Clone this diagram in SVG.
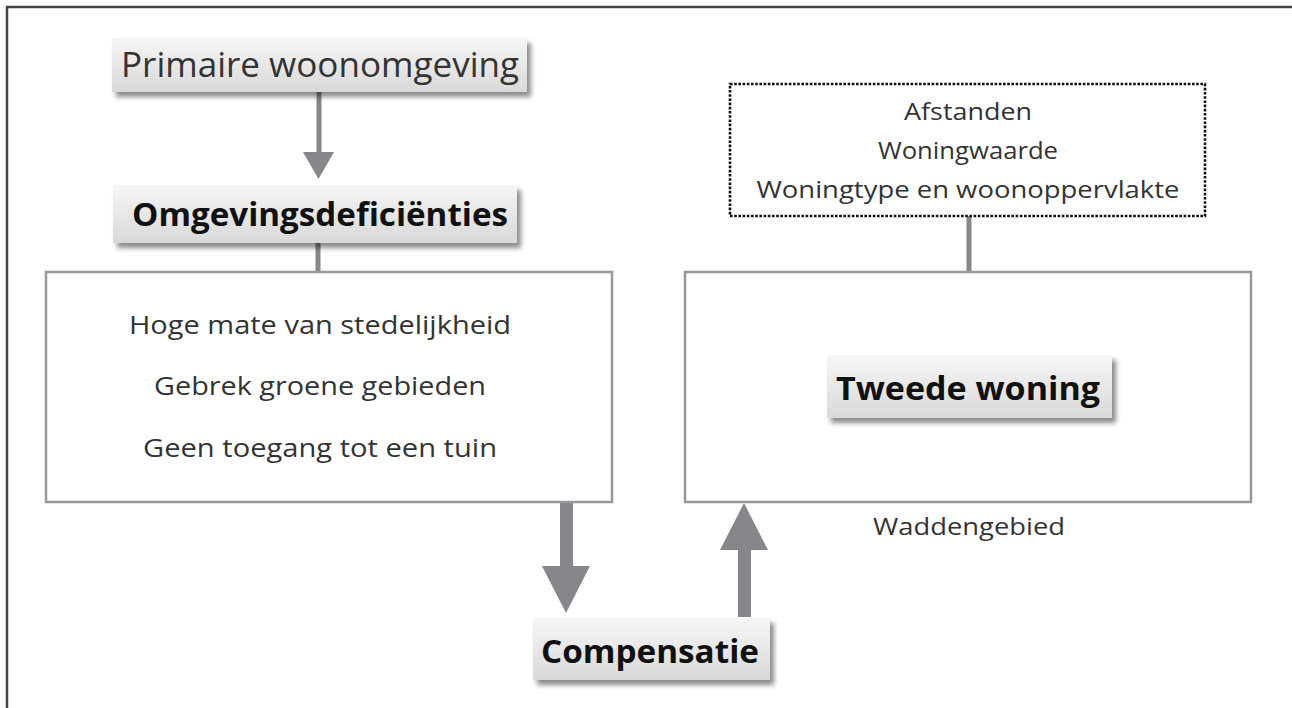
<svg xmlns="http://www.w3.org/2000/svg" width="1292" height="708" viewBox="0 0 1292 708">
<style>
.frame{fill:none;stroke:#444;stroke-width:2.5}
.box{fill:#fff;stroke:#999;stroke-width:2.5}
.dot{fill:#fff;stroke:#111;stroke-width:2.6;stroke-dasharray:2.6 1.6}
.lbl{fill:url(#g);filter:url(#sh)}
.t{font-family:"Open Sans","Liberation Sans",sans-serif;fill:#333;text-anchor:middle}
.b{font-family:"Open Sans","Liberation Sans",sans-serif;font-weight:bold;fill:#111;text-anchor:middle}
.ln{stroke:#85878a;stroke-width:5;fill:none}
.ar{fill:#85878a}
</style>
<defs>
<linearGradient id="g" x1="0" y1="0" x2="0" y2="1">
<stop offset="0" stop-color="#f6f6f6"/>
<stop offset="1" stop-color="#d9d9d9"/>
</linearGradient>
<filter id="sh" x="-10%" y="-20%" width="125%" height="160%">
<feDropShadow dx="4" dy="5" stdDeviation="2.5" flood-color="#000" flood-opacity="0.45"/>
</filter>
</defs>
<rect width="1292" height="708" fill="#fff"/>
<rect class="frame" x="7" y="7" width="1300" height="720"/>
<g id="connectors">
<line class="ln" x1="319" y1="92" x2="319" y2="154"/>
<polygon class="ar" points="303,152 334,152 318.5,179"/>
<line class="ln" x1="318" y1="243" x2="318" y2="272"/>
<line class="ln" x1="969" y1="216" x2="969" y2="272"/>
<rect class="ar" x="560" y="502" width="13" height="66"/>
<polygon class="ar" points="542,566 590,566 566,613"/>
<rect class="ar" x="738" y="548" width="13" height="69"/>
<polygon class="ar" points="720,550 768,550 744,503"/>
</g>
<g id="primaire">
<rect class="lbl" x="112" y="38" width="415" height="54"/>
<text class="t" x="320" y="77" font-size="35" textLength="398" lengthAdjust="spacingAndGlyphs">Primaire woonomgeving</text>
</g>
<g id="omgevingsdeficienties">
<rect class="lbl" x="113" y="185" width="404" height="58"/>
<text class="b" x="320" y="226" font-size="33" textLength="376" lengthAdjust="spacingAndGlyphs">Omgevingsdeficiënties</text>
</g>
<g id="deficiencies-box">
<rect class="box" x="46" y="272" width="566" height="230"/>
<text class="t" x="320" y="334" font-size="26" textLength="382" lengthAdjust="spacingAndGlyphs">Hoge mate van stedelijkheid</text>
<text class="t" x="320" y="395" font-size="26" textLength="332" lengthAdjust="spacingAndGlyphs">Gebrek groene gebieden</text>
<text class="t" x="320" y="457" font-size="26" textLength="354" lengthAdjust="spacingAndGlyphs">Geen toegang tot een tuin</text>
</g>
<g id="factors">
<rect class="dot" x="730" y="84" width="475" height="132"/>
<text class="t" x="968" y="120" font-size="24" textLength="128" lengthAdjust="spacingAndGlyphs">Afstanden</text>
<text class="t" x="968" y="159" font-size="24" textLength="180" lengthAdjust="spacingAndGlyphs">Woningwaarde</text>
<text class="t" x="968" y="198" font-size="24" textLength="423" lengthAdjust="spacingAndGlyphs">Woningtype en woonoppervlakte</text>
</g>
<g id="tweede-woning-box">
<rect class="box" x="685" y="272" width="566" height="230"/>
<text class="t" x="969" y="535" font-size="24" textLength="192" lengthAdjust="spacingAndGlyphs">Waddengebied</text>
</g>
<g id="tweede-woning">
<rect class="lbl" x="827" y="355" width="285" height="63"/>
<text class="b" x="968" y="400" font-size="33" textLength="264" lengthAdjust="spacingAndGlyphs">Tweede woning</text>
</g>
<g id="compensatie">
<rect class="lbl" x="533" y="618" width="237" height="62"/>
<text class="b" x="650" y="663" font-size="33" textLength="218" lengthAdjust="spacingAndGlyphs">Compensatie</text>
</g>
</svg>
